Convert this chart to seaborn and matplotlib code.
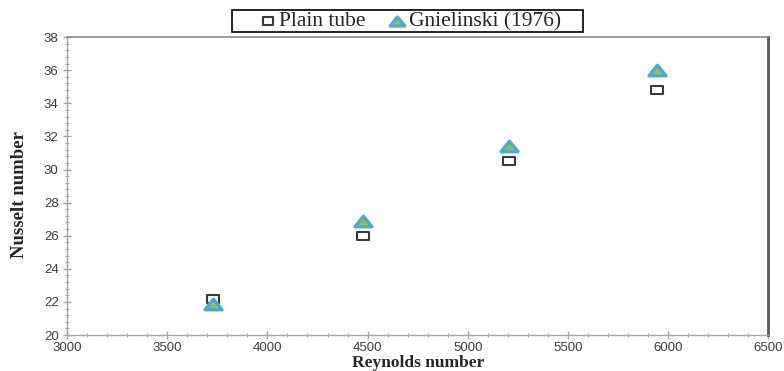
import matplotlib
matplotlib.use("Agg")
import matplotlib.pyplot as plt
from matplotlib.path import Path
from matplotlib.patches import Rectangle
import seaborn as sns
import pandas as pd
from matplotlib.ticker import MultipleLocator

# Measured data
reynolds_plain = [3730, 4475, 5205, 5945]
nusselt_plain = [22.2, 26.0, 30.5, 34.8]
reynolds_gn = [3730, 4475, 5205, 5945]
nusselt_gn = [21.85, 26.9, 31.4, 36.0]
series_labels = ["Plain tube", "Gnielinski (1976)"]

sns.set_theme(style="white")
plt.rcParams["font.family"] = ["Liberation Sans", "DejaVu Sans"]

# Slightly flattened marker shapes
rect_marker = Path([(-1, -0.7), (1, -0.7), (1, 0.7), (-1, 0.7), (-1, -0.7)],
                   [Path.MOVETO, Path.LINETO, Path.LINETO, Path.LINETO, Path.CLOSEPOLY])
tri_marker = Path([(-1, -0.62), (1, -0.62), (0, 0.62), (-1, -0.62)],
                  [Path.MOVETO, Path.LINETO, Path.LINETO, Path.CLOSEPOLY])

fig = plt.figure(figsize=(7.84, 3.71), dpi=100)
ax = fig.add_axes([0.0855, 0.097, 0.8945, 0.803])

df_plain = pd.DataFrame({"Re": reynolds_plain, "Nu": nusselt_plain})
df_gn = pd.DataFrame({"Re": reynolds_gn, "Nu": nusselt_gn})

sns.scatterplot(data=df_plain, x="Re", y="Nu", ax=ax, marker=rect_marker, s=75,
                facecolor="white", edgecolor="#3a3a3a", linewidth=1.5,
                label=series_labels[0], zorder=3)
sns.scatterplot(data=df_gn, x="Re", y="Nu", ax=ax, marker=tri_marker, s=150,
                facecolor="#9bbb59", edgecolor="#4bacc6", linewidth=2.4,
                label=series_labels[1], zorder=4)

ax.set_xlim(3000, 6500)
ax.set_ylim(20, 38)
ax.xaxis.set_major_locator(MultipleLocator(500))
ax.xaxis.set_minor_locator(MultipleLocator(100))
ax.yaxis.set_major_locator(MultipleLocator(2))
ax.yaxis.set_minor_locator(MultipleLocator(0.4))

for side in ["left", "bottom"]:
    ax.spines[side].set_color("#a6a6a6")
    ax.spines[side].set_linewidth(1.0)
ax.spines["top"].set_color("#8a8a8a")
ax.spines["top"].set_linewidth(1.2)
ax.spines["right"].set_color("#5a5a5a")
ax.spines["right"].set_linewidth(2.0)

ax.tick_params(axis="both", which="major", direction="inout", length=6,
               width=1, color="#a6a6a6", labelsize=9.5, labelcolor="#404040",
               bottom=True, left=True, pad=3)
ax.tick_params(axis="x", which="major", pad=2)
ax.tick_params(axis="both", which="minor", direction="inout", length=3.5,
               width=0.8, color="#a6a6a6", bottom=True, left=True)

ax.set_xlabel("Reynolds number", fontsize=12.5, fontweight="bold",
              family="Liberation Serif", va="bottom")
ax.xaxis.set_label_coords(0.5, -0.12)
ax.set_ylabel("Nusselt number", fontsize=13.5, fontweight="bold",
              family="Liberation Serif", va="center")
ax.yaxis.set_label_coords(-0.068, 0.47)

leg = ax.legend(loc="center", bbox_to_anchor=(0.523, 0.943),
                bbox_transform=fig.transFigure, ncol=2, frameon=False,
                prop={"family": "Liberation Serif", "size": 15.5},
                handletextpad=0.15, columnspacing=1.05, borderpad=0.1,
                handlelength=0.8, markerscale=0.85)

# Legend box drawn as a separate frame around the entries
fig.patches.append(Rectangle((232 / 784, 1 - 32 / 371), (583 - 232) / 784, 22 / 371,
                             transform=fig.transFigure, fill=False,
                             edgecolor="black", linewidth=1.2, zorder=5))

fig.savefig("out.png", dpi=100)
